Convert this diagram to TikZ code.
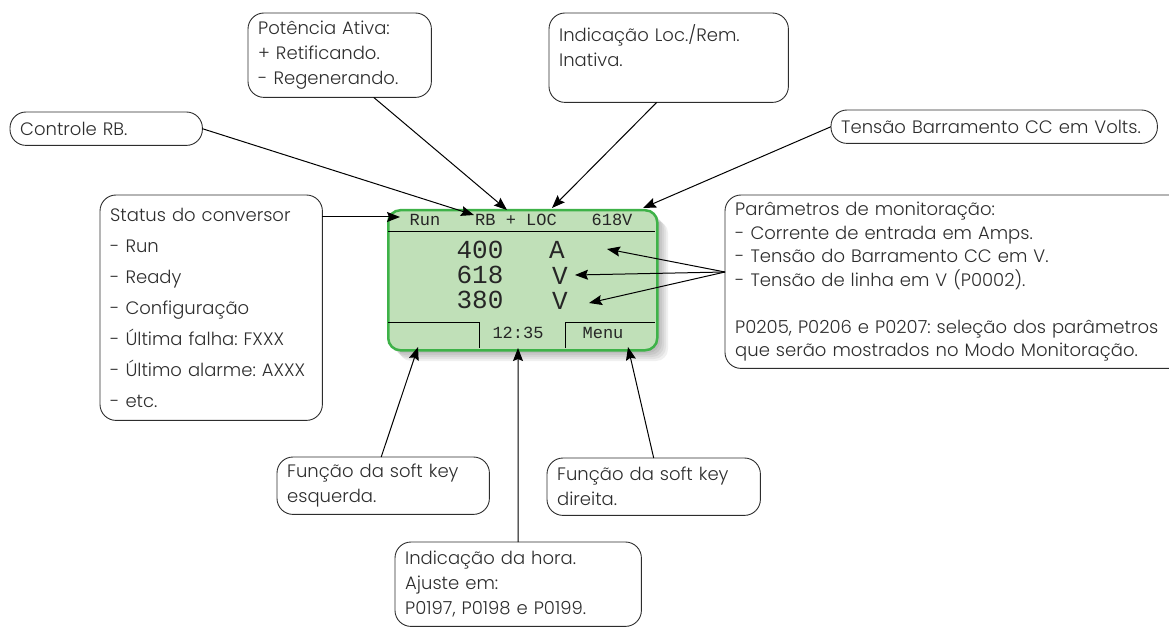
\documentclass[tikz,border=0pt]{standalone}
\usepackage{fontspec}
\setmainfont{Poppins}[UprightFont=* Light]
\newfontfamily\lcdfont{Liberation Mono}
\usetikzlibrary{arrows.meta,calc}
\definecolor{lcdgreen}{RGB}{192,224,184}
\definecolor{lcdedge}{RGB}{62,178,72}
\definecolor{ink}{RGB}{45,45,45}
\frenchspacing

\begin{document}
\begin{tikzpicture}[x=1pt,y=-1pt,
    >={Stealth[length=13pt,width=10pt,inset=2pt]},
    note/.style={rectangle, anchor=north west,
      align=left, inner xsep=10pt, inner ysep=0pt, text=ink,
      font=\fontsize{18}{25}\selectfont},
    frame/.style={draw=ink, line width=0.9pt, rounded corners=16pt},
    lcd/.style={font=\lcdfont\fontsize{17}{20}\selectfont, inner sep=0pt, text=black!85},
    big/.style={font=\lcdfont\fontsize{26}{30}\selectfont, inner sep=0pt, text=black!85},
    pointer/.style={->, line width=1pt}]

  \useasboundingbox (0,0) rectangle (1169,628);

  % call-out boxes
  \node[note, text width=172pt, minimum height=33pt] (ctrl) at (10,112) {Controle RB.};
  \node[note, text width=163pt, minimum height=84pt] (potencia) at (248,13)
    {Potência Ativa:\\+ Retificando.\\- Regenerando.};
  \node[note, text width=219pt, minimum height=89pt] (locrem) at (549,13)
    {Indicação Loc./Rem.\\Inativa.\\\mbox{}};
  \node[note, text width=306pt, minimum height=33pt] (vdc) at (831,110)
    {Tensão Barramento CC em Volts.};
  \node[note, text width=202pt, minimum height=225pt,
    font=\fontsize{18}{31}\selectfont] (status) at (100,195)
    {Status do conversor\\- Run\\- Ready\\- Configuração\\- Última falha: FXXX\\- Último alarme: AXXX\\- etc.};
  \node[note, text width=460pt, minimum height=173pt,
    font=\fontsize{18}{23.5}\selectfont] (param) at (725,195)
    {Parâmetros de monitoração:\\- Corrente de entrada em Amps.\\- Tensão do Barramento CC em V.\\- Tensão de linha em V (P0002).\\[23.5pt]P0205, P0206 e P0207: seleção dos parâmetros\\que serão mostrados no Modo Monitoração.};
  \node[note, text width=192pt, minimum height=57pt] (softl) at (277,457)
    {Função da soft key\\esquerda.};
  \node[note, text width=193pt, minimum height=57pt] (softr) at (547,458)
    {Função da soft key\\direita.};
  \node[note, text width=226pt, minimum height=84pt] (hora) at (395,542)
    {Indicação da hora.\\Ajuste em:\\P0197, P0198 e P0199.};

  \foreach \n in {ctrl,potencia,locrem,vdc,status,param,softl,softr,hora}
    \draw[frame] (\n.north west) rectangle (\n.south east);

  % display with its shadow
  \foreach \d in {2,4,...,12}
    \fill[black, opacity=0.06, rounded corners=12pt] (387+\d,209+\d) rectangle (656+\d,349+\d);
  \node[draw=lcdedge, fill=lcdgreen, line width=2.5pt, rounded corners=12pt,
    minimum width=269pt, minimum height=140pt, anchor=north west, inner sep=0pt] (lcd) at (387,209) {};
  \draw[line width=1pt] (388,232) -- (655,232);
  \draw[line width=1pt] (388,322) -- (479,322) -- (479,348);
  \draw[line width=1pt] (565,348) -- (565,322) -- (655,322);

  \node[lcd] (run) at (425,220) {Run};
  \node[lcd] (rbloc) at (516,220) {RB + LOC};
  \node[lcd] (vbus) at (612,220) {618V};
  \node[big] (iin) at (480,250) {400};
  \node[big] (iunit) at (557,250) {A};
  \node[big] (vdcv) at (480,275) {618};
  \node[big] (vdcunit) at (560,276) {V};
  \node[big] (vline) at (480,300) {380};
  \node[big] (vlineunit) at (560,301) {V};
  \node[lcd] (clock) at (518,333) {12:35};
  \node[lcd] (menu) at (603,333) {Menu};

  % arrow tips
  \coordinate (tipRun) at (400,217);
  \coordinate (tipRB) at (474,215);
  \coordinate (tipPot) at (507,210);
  \coordinate (tipLoc) at (552,208);
  \coordinate (tipV) at (643,208);
  \coordinate (tipA) at (607,249);
  \coordinate (tipV1) at (575,275);
  \coordinate (tipV2) at (589,303);
  \coordinate (tipL) at (418,347);
  \coordinate (tipClock) at (518,348);
  \coordinate (tipMenu) at (628,347);

  \draw[pointer] (ctrl.east) -- (tipRB);
  \draw[pointer] ([xshift=34pt]potencia.south) -- (tipPot);
  \draw[pointer] ([xshift=-12pt]locrem.south) -- (tipLoc);
  \draw[pointer] (vdc.west) -- (tipV);
  \draw[pointer] ([yshift=-22pt]status.north east) -- (tipRun);
  \draw[pointer] ([yshift=-77pt]param.north west) -- (tipA);
  \draw[pointer] ([yshift=-77pt]param.north west) -- (tipV1);
  \draw[pointer] ([yshift=-77pt]param.north west) -- (tipV2);
  \draw[pointer] ([xshift=-2pt]softl.north) -- (tipL);
  \draw[pointer] (hora.north) -- (tipClock);
  \draw[pointer] (softr.north) -- (tipMenu);
\end{tikzpicture}
\end{document}
